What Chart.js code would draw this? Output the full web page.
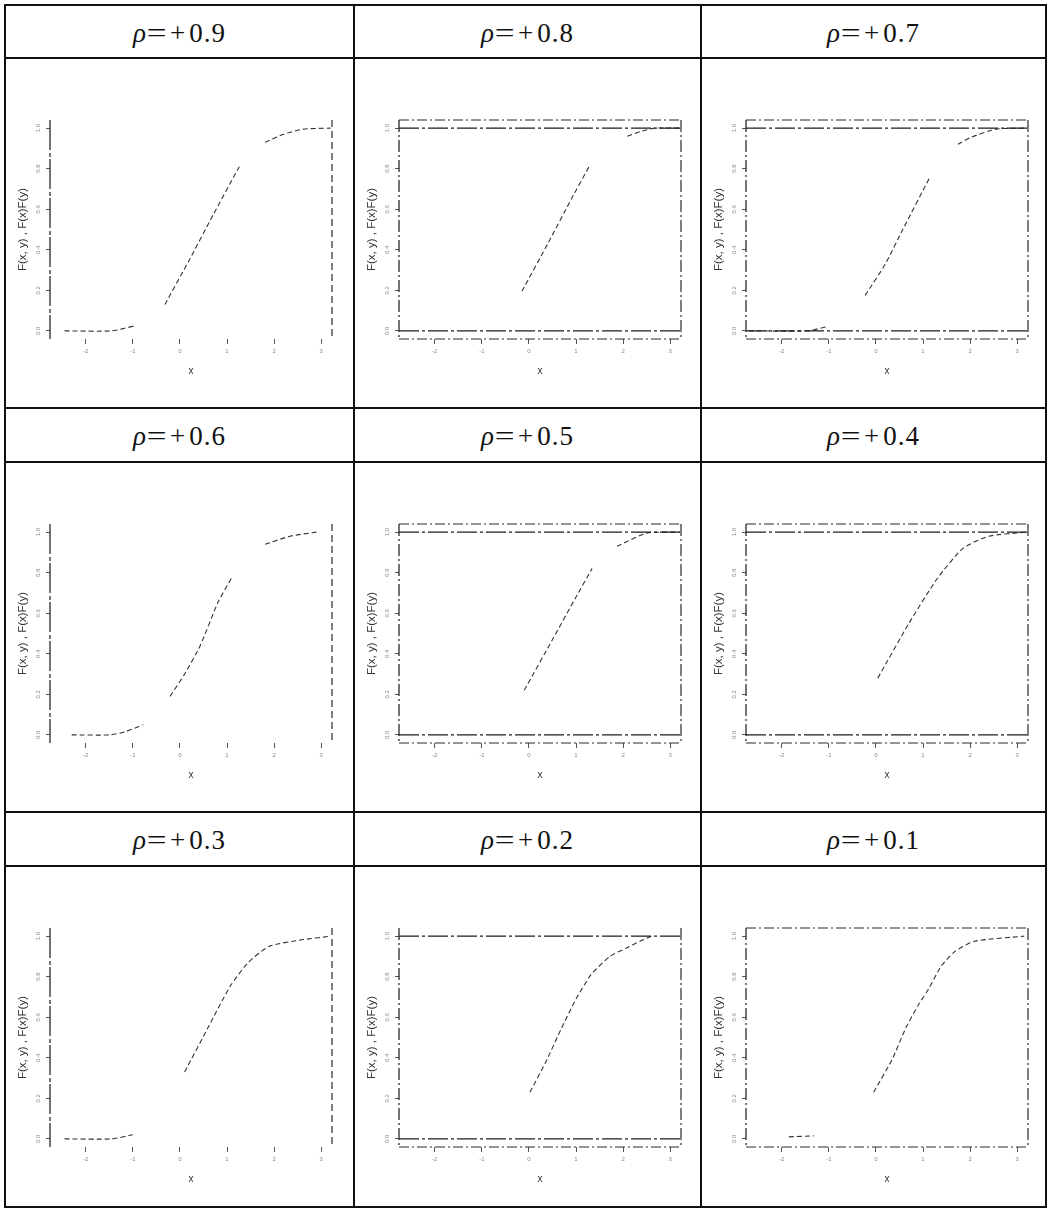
<!DOCTYPE html>
<html>
<head>
<meta charset="utf-8">
<script src="https://cdn.jsdelivr.net/npm/chart.js@4.4.1/dist/chart.umd.min.js"></script>
<style>
  html, body { margin: 0; padding: 0; background: #fff; }
  #grid {
    position: absolute; left: 4px; top: 4px;
    display: grid;
    grid-template-columns: 349px 347px 345px;
    grid-template-rows: 53px 350px 54px 350px 54px 341px;
    border-left: 2px solid #111; border-top: 2px solid #111;
  }
  .cell { position: relative; box-sizing: border-box; border-right: 2px solid #111; border-bottom: 2px solid #111; }
  .head {
    display: flex; align-items: center; justify-content: center; padding-top: 3px;
    font-family: "Liberation Serif", "DejaVu Serif", serif; font-size: 27px; color: #111;
  }
  .head .eq { margin: 0 2px 0 3px; transform: scaleX(1.3); }
  .head .pl { margin: 0 4px 0 4px; }
  .head .num { letter-spacing: 1px; }
  canvas { display: block; }
</style>
</head>
<body>
<div id="grid"></div>
<script>
// panel titles (correlation)
var rhoLabels = ['+0.9', '+0.8', '+0.7', '+0.6', '+0.5', '+0.4', '+0.3', '+0.2', '+0.1'];
// what is printed in each panel: top / bottom edge of the box, and the lines at 0 and 1
var showTopEdge    = [false, true, true, false, true, true, false, false, true];
var showBottomEdge = [false, true, true, false, true, true, false, true, true];
var showRefLines   = [false, true, true, false, true, true, false, true, false];

var xTicks = [-2, -1, 0, 1, 2, 3];
var yTicks = [0, 0.2, 0.4, 0.6, 0.8, 1];
var xRange = [-2.76, 3.23];
var yRange = [-0.04, 1.04];
var refLevels = [0, 1];

// curves (null = piece missing in the print)
var curveX09 = [-2.45, -1.45, -0.96, -0.6, -0.32, 0.2, 0.7, 1.26, 1.5, 1.81, 2.2, 2.62, 3.2];
var curveY09 = [0, 0, 0.025, null, 0.13, 0.35, 0.57, 0.81, null, 0.93, 0.97, 0.995, 1.0];
var curveX08 = [-0.15, 0.4, 0.9, 1.3, 1.7, 2.09, 2.4, 2.68, 3.2];
var curveY08 = [0.195, 0.43, 0.65, 0.82, null, 0.96, 0.985, 1.0, 1.0];
var curveX07 = [-2.7, -1.45, -1.06, -0.6, -0.23, 0.2, 0.57, 1.15, 1.45, 1.74, 2.02, 2.55, 3.2];
var curveY07 = [0, 0, 0.02, null, 0.175, 0.33, 0.5, 0.76, null, 0.92, 0.955, 0.995, 1.0];
var curveX06 = [-2.3, -1.49, -1.17, -0.78, -0.5, -0.21, 0.1, 0.43, 0.81, 1.1, 1.45, 1.81, 2.34, 2.9];
var curveY06 = [0, 0, 0.015, 0.05, null, 0.19, 0.3, 0.44, 0.655, 0.775, null, 0.94, 0.98, 1.0];
var curveX05 = [-0.1, 0.5, 1.0, 1.34, 1.6, 1.87, 2.5, 3.2];
var curveY05 = [0.22, 0.47, 0.68, 0.82, null, 0.93, 0.995, 1.0];
var curveX04 = [0.04, 0.7, 1.3, 1.85, 2.4, 3.2];
var curveY04 = [0.28, 0.55, 0.77, 0.92, 0.98, 1.0];
var curveX03 = [-2.45, -1.45, -1.0, -0.5, 0.1, 0.6, 1.06, 1.45, 1.9, 2.55, 3.2];
var curveY03 = [0, 0, 0.02, null, 0.33, 0.55, 0.75, 0.87, 0.95, 0.98, 1.0];
var curveX02 = [0.02, 0.36, 0.68, 1.0, 1.32, 1.72, 2.06, 2.36, 2.6];
var curveY02 = [0.23, 0.38, 0.54, 0.69, 0.81, 0.9, 0.94, 0.975, 1.0];
var curveX01 = [-1.85, -1.32, -0.7, -0.05, 0.34, 0.64, 0.9, 1.12, 1.38, 1.68, 2.1, 3.15];
var curveY01 = [0.01, 0.015, null, 0.23, 0.39, 0.55, 0.66, 0.74, 0.85, 0.925, 0.975, 1.0];

var curveX = [curveX09, curveX08, curveX07, curveX06, curveX05, curveX04, curveX03, curveX02, curveX01];
var curveY = [curveY09, curveY08, curveY07, curveY06, curveY05, curveY04, curveY03, curveY02, curveY01];

(function(){
  Chart.defaults.animation = false;
  Chart.defaults.font.family = '"Liberation Sans", Arial, sans-serif';

  // dashed plot frame like the printed figure (axis borders can't be dashed)
  var framePlugin = {
    id: 'rFrame',
    afterDatasetsDraw: function(chart, args, opts) {
      var a = chart.chartArea, ctx = chart.ctx;
      function seg(x1, y1, x2, y2, dash, w) {
        ctx.setLineDash(dash);
        ctx.lineWidth = w;
        ctx.beginPath(); ctx.moveTo(x1, y1); ctx.lineTo(x2, y2); ctx.stroke();
      }
      ctx.save();
      ctx.strokeStyle = '#2a2a2a';
      seg(a.left, a.top, a.left, a.bottom, opts.leftDash, 1.3);
      seg(a.right, a.top, a.right, a.bottom, opts.rightDash, 1.2);
      if (opts.top) seg(a.left, a.top, a.right, a.top, [10, 3, 2, 3], 1.1);
      if (opts.bottom) seg(a.left, a.bottom, a.right, a.bottom, [10, 3, 2, 3], 1.1);
      ctx.restore();
    }
  };

  var colW = [349, 347, 345];
  var plotH = [350, 350, 341];
  var grid = document.getElementById('grid');

  function fixedTicks(list) {
    return function(axis) { axis.ticks = list.map(function(v){ return { value: v }; }); };
  }

  function buildPanel(i, canvas, W, H) {
    var boxed = showTopEdge[i] || showBottomEdge[i];
    var datasets = [];

    if (showRefLines[i]) {
      refLevels.forEach(function(lv){
        datasets.push({
          data: xRange.map(function(x){ return { x: x, y: lv }; }),
          borderColor: '#1c1c1c', borderWidth: 1.3, borderDash: [20, 3, 3, 3],
          pointRadius: 0, showLine: true
        });
      });
    }
    datasets.push({
      data: curveX[i].map(function(x, k){ return { x: x, y: curveY[i][k] }; }),
      borderColor: '#333', borderWidth: 1.1, borderDash: [5, 3],
      pointRadius: 0, showLine: true, tension: 0.2, spanGaps: false
    });

    var tickFont = { size: 6 };
    return new Chart(canvas, {
      type: 'scatter',
      data: { datasets: datasets },
      plugins: [framePlugin],
      options: {
        responsive: false,
        layout: { padding: { left: 10, top: 61, right: W - 326, bottom: H - 280 - 41 } },
        plugins: {
          legend: { display: false }, tooltip: { enabled: false },
          rFrame: {
            top: showTopEdge[i], bottom: showBottomEdge[i],
            leftDash: boxed ? [12, 3, 2, 3] : [30, 3, 4, 2],
            rightDash: boxed ? [12, 3, 2, 3] : [7, 4]
          }
        },
        scales: {
          x: {
            type: 'linear', position: 'bottom', min: xRange[0], max: xRange[1],
            afterBuildTicks: fixedTicks(xTicks),
            afterFit: function(a){ a.height = 41; },
            grid: { drawOnChartArea: false, drawTicks: true, tickLength: 5, color: '#555' },
            border: { display: false },
            ticks: { font: tickFont, color: '#888', padding: 4, maxRotation: 0, callback: function(v){ return String(v); } },
            title: { display: true, text: 'x', font: { size: 10 }, color: '#333', padding: { top: 0, bottom: 3 } }
          },
          y: {
            type: 'linear', position: 'left', min: yRange[0], max: yRange[1],
            afterBuildTicks: fixedTicks(yTicks),
            afterFit: function(a){ a.width = 34; },
            grid: { drawOnChartArea: false, drawTicks: true, tickLength: 4, color: '#555' },
            border: { display: false },
            ticks: { font: tickFont, color: '#888', padding: 3, minRotation: 90, maxRotation: 90, crossAlign: 'center',
                     callback: function(v){ return Number(v).toFixed(1); } },
            title: { display: true, text: 'F(x, y) , F(x)F(y)', font: { size: 11.5 }, color: '#333', padding: { top: 0, bottom: 0 } }
          }
        }
      }
    });
  }

  for (var r = 0; r < 3; r++) {
    for (var c = 0; c < 3; c++) {
      var i = r * 3 + c;
      var h = document.createElement('div');
      h.className = 'cell head';
      h.innerHTML = '<i>\u03c1</i><span class="eq">=</span><span class="pl">+</span><span class="num">' +
                    rhoLabels[i].slice(1) + '</span>';
      h.style.gridRow = String(r * 2 + 1);
      h.style.gridColumn = String(c + 1);
      grid.appendChild(h);
    }
    for (var c2 = 0; c2 < 3; c2++) {
      var j = r * 3 + c2;
      var p = document.createElement('div');
      p.className = 'cell';
      p.style.gridRow = String(r * 2 + 2);
      p.style.gridColumn = String(c2 + 1);
      var cv = document.createElement('canvas');
      var W = colW[c2] - 2, H = plotH[r] - 2;
      cv.width = W; cv.height = H;
      cv.style.width = W + 'px'; cv.style.height = H + 'px';
      p.appendChild(cv);
      grid.appendChild(p);
      buildPanel(j, cv, W, H);
    }
  }
})();
</script>
</body>
</html>
